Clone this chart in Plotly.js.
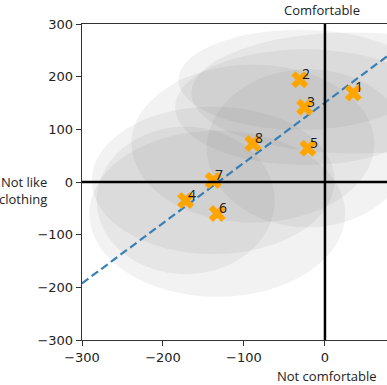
<!DOCTYPE html>
<html>
<head>
<meta charset="utf-8">
<script src="https://cdn.plot.ly/plotly-3.0.1.min.js"></script>
<style>
html,body{margin:0;padding:0;background:#fff;overflow:hidden;}
#chart{width:387px;height:385px;}
</style>
</head>
<body>
<div id="chart"></div>
<script>
// Data
const labels = ["1","2","3","4","5","6","7","8"];
const xVals  = [35, -31, -25, -172, -21, -133, -138, -89];
const yVals  = [169, 194, 142, -35, 64, -60, 3, 73];
// spread (semi-axes) of each item's ellipse, in data units
const spreadX = [200, 150, 160, 110, 125, 158, 150, 150];
const spreadY = [115, 95, 110, 140, 150, 158, 140, 150];
const xTicks = [-300, -200, -100, 0, 100, 200, 300];
const yTicks = [-300, -200, -100, 0, 100, 200, 300];

// least-squares trend line through the points
const n = xVals.length;
const mx = xVals.reduce((a,b)=>a+b,0)/n;
const my = yVals.reduce((a,b)=>a+b,0)/n;
let sxy=0, sxx=0;
for(let i=0;i<n;i++){sxy+=(xVals[i]-mx)*(yVals[i]-my);sxx+=(xVals[i]-mx)**2;}
const slope = sxy/sxx, icpt = my - slope*mx;
const xRange = [-300, 76.6];
const lineX = [xRange[0], xRange[1]];
const lineY = lineX.map(v=>slope*v+icpt);

const shapes = [];
for(let i=0;i<n;i++){
  shapes.push({type:'circle', xref:'x', yref:'y', layer:'below',
    x0:xVals[i]-spreadX[i], x1:xVals[i]+spreadX[i],
    y0:yVals[i]-spreadY[i], y1:yVals[i]+spreadY[i],
    fillcolor:'rgba(128,128,128,0.1)', line:{width:0}});
}
// zero lines
shapes.push({type:'line', xref:'paper', yref:'y', x0:0, x1:1, y0:0, y1:0, line:{color:'#000', width:2.5}});
shapes.push({type:'line', xref:'x', yref:'paper', x0:0, x1:0, y0:0, y1:1, line:{color:'#000', width:2.5}});

const annotations = labels.map((t,i)=>({
  x:xVals[i], y:yVals[i], xref:'x', yref:'y', text:t, showarrow:false,
  xanchor:'left', yanchor:'middle', xshift:0, yshift:6,
  font:{family:'Open Sans, DejaVu Sans, sans-serif', size:14, color:'#1a1a1a'}
}));
const txtFont = {family:'Open Sans, sans-serif', size:13, color:'#222'};
annotations.push({x:0, y:1, xref:'x', yref:'paper', text:'Comfortable', showarrow:false, xanchor:'center', yanchor:'middle', yshift:14, xshift:-3, font:txtFont});
annotations.push({x:0, y:0, xref:'x', yref:'paper', text:'Not comfortable', showarrow:false, xanchor:'center', yanchor:'middle', yshift:-36, xshift:2, font:txtFont});
annotations.push({x:-300, y:0, xref:'x', yref:'y', text:'Not like<br>clothing', align:'right', showarrow:false, xanchor:'right', yanchor:'middle', xshift:-33, yshift:-8, font:txtFont});

const traces = [
  {x:lineX, y:lineY, mode:'lines', line:{color:'#3a7fb4', width:2.2, dash:'8px,4px'}, hoverinfo:'skip'},
  {x:xVals, y:yVals, mode:'markers', marker:{symbol:'x', size:15, color:'#FFA500', line:{width:0}}}
];

const tickFont = {family:'DejaVu Sans, sans-serif', size:13, color:'#222'};
const layout = {
  width:387, height:385, showlegend:false,
  margin:{l:82, r:0, t:24, b:45},
  paper_bgcolor:'#fff', plot_bgcolor:'#fff',
  xaxis:{range:xRange, tickvals:xTicks, ticktext:xTicks.map(v=>v<0?'\u2212'+(-v):String(v)),
    showgrid:false, zeroline:false, showline:true, linecolor:'#333', linewidth:1.3, mirror:true,
    ticks:'outside', ticklen:5, tickcolor:'#333', tickfont:tickFont},
  yaxis:{range:[-300,300], tickvals:yTicks, ticktext:yTicks.map(v=>v<0?'\u2212'+(-v):String(v)),
    showgrid:false, zeroline:false, showline:true, linecolor:'#333', linewidth:1.3, mirror:false,
    ticks:'outside', ticklen:5, tickcolor:'#333', tickfont:tickFont},
  shapes:shapes, annotations:annotations
};
Plotly.newPlot('chart', traces, layout, {displayModeBar:false, staticPlot:true});
</script>
</body>
</html>
